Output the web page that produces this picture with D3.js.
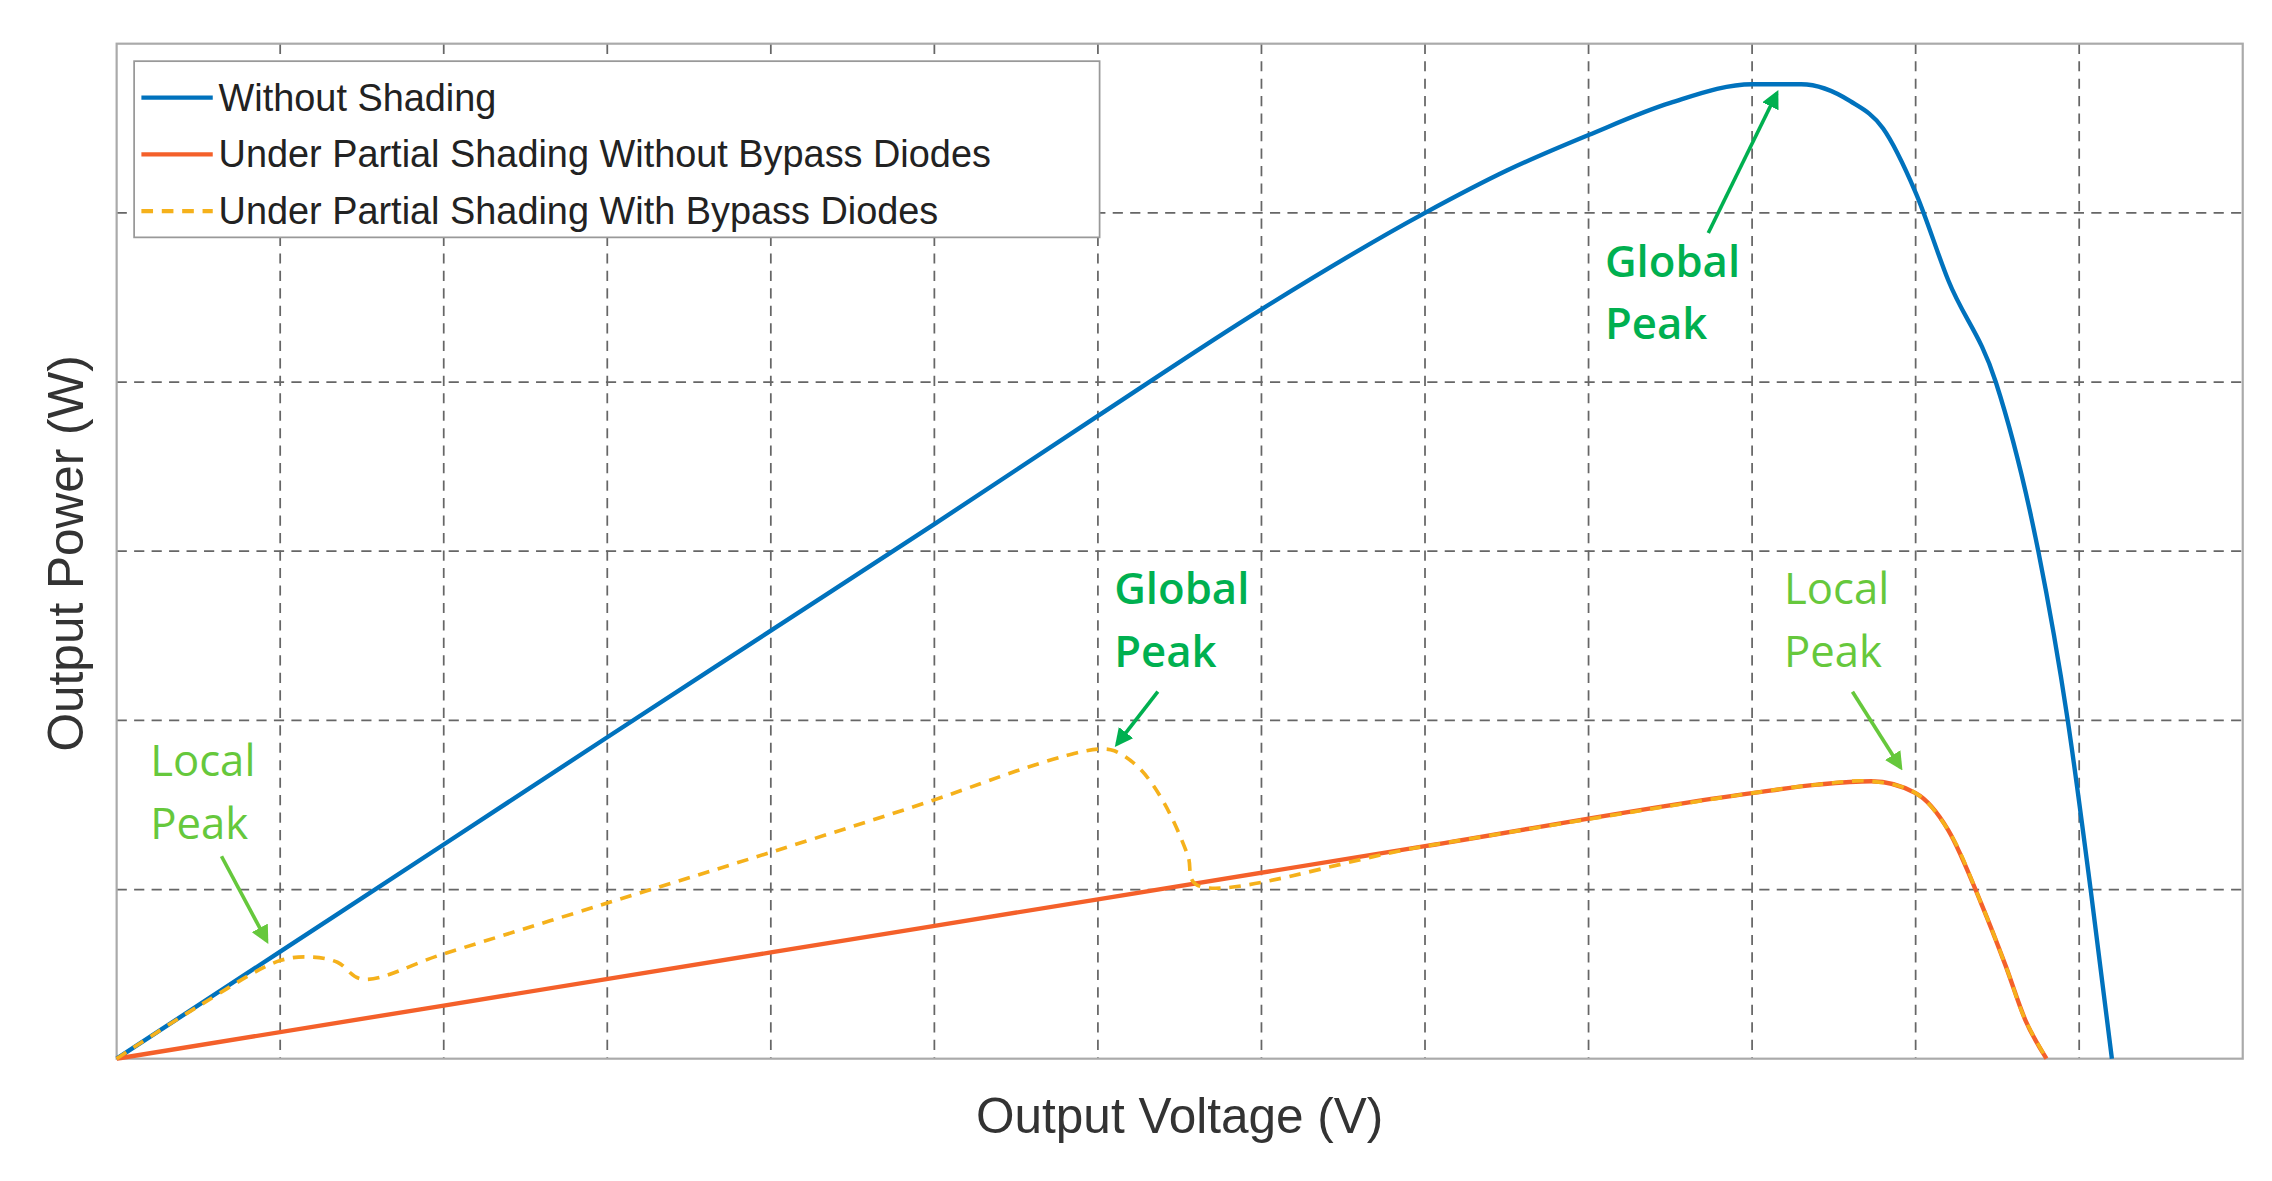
<!DOCTYPE html><html><head><meta charset="utf-8"><script src="https://cdn.jsdelivr.net/npm/d3@7"></script>
<style>body{margin:0;background:#fff}</style></head><body><svg id="c" width="2272" height="1181" viewBox="0 0 1560 811"></svg>
<script>
const xTicks=d3.range(0,14);
const yTicks=d3.range(0,7);
const blueX=[0,1,2,3,4,5,6,7,8,8.5,9,9.5,10,10.3,10.6,10.8,11,11.2,11.49,11.75,11.93,12.07,12.2];
const blueY=[0,0.633,1.266,1.9,2.53,3.16,3.8,4.43,5.0,5.25,5.46,5.65,5.76,5.76,5.66,5.5,5.12,4.6,4.0,3.0,2.0,1.0,0];
const orangeX=[0,2,4,6,8,10,10.4,10.73,11,11.2,11.4,11.55,11.67,11.8];
const orangeY=[0,0.314,0.628,0.942,1.256,1.57,1.62,1.64,1.57,1.35,0.92,0.55,0.23,0];
const yellowX=[0,0.5,1,1.2,1.35,1.5,2,3,4,5,5.5,5.8,6,6.1,6.25,6.4,6.55,6.6,8,10,10.4,10.73,11,11.2,11.4,11.55,11.67,11.8];
const yellowY=[0,0.31,0.58,0.6,0.57,0.47,0.62,0.92,1.22,1.53,1.7,1.79,1.83,1.82,1.72,1.52,1.2,1.03,1.256,1.57,1.62,1.64,1.57,1.35,0.92,0.55,0.23,0];
const legendLabels=["Without Shading","Under Partial Shading Without Bypass Diodes","Under Partial Shading With Bypass Diodes"];
const colors=["#0072bd","#f4602a","#f5b11b"];
const svg=d3.select("#c");
const L=80,R=1540,T=30,B=727;
const x=d3.scaleLinear().domain([0,13]).range([L,R]);
const y=d3.scaleLinear().domain([0,6]).range([B,T]);
const g=svg.append("g");
g.selectAll(".vx").data(xTicks.slice(1,-1)).join("line").attr("x1",x).attr("x2",x).attr("y1",T).attr("y2",B).attr("stroke","#666").attr("stroke-dasharray","7,5").attr("stroke-width",1.2);
g.selectAll(".hy").data(yTicks.slice(1,-1)).join("line").attr("y1",y).attr("y2",y).attr("x1",L).attr("x2",R).attr("stroke","#666").attr("stroke-dasharray","7,5").attr("stroke-width",1.2);
svg.append("rect").attr("x",L).attr("y",T).attr("width",R-L).attr("height",B-T).attr("fill","none").attr("stroke","#aaa").attr("stroke-width",1.5);
const line=d3.line().x(d=>x(d[0])).y(d=>y(d[1])).curve(d3.curveMonotoneX);
const zip=(a,b)=>a.map((v,i)=>[v,b[i]]);
svg.append("path").attr("d",line(zip(blueX,blueY))).attr("fill","none").attr("stroke",colors[0]).attr("stroke-width",3);
svg.append("path").attr("d",line(zip(orangeX,orangeY))).attr("fill","none").attr("stroke",colors[1]).attr("stroke-width",3);
svg.append("path").attr("d",d3.line().x(d=>x(d[0])).y(d=>y(d[1])).curve(d3.curveCatmullRom)(zip(yellowX,yellowY))).attr("fill","none").attr("stroke",colors[2]).attr("stroke-width",2.5).attr("stroke-dasharray","8,6");
// legend
svg.append("rect").attr("x",92).attr("y",42).attr("width",663).attr("height",121).attr("fill","#fff").attr("stroke","#999").attr("stroke-width",1.2);
legendLabels.forEach((t,i)=>{const yy=67+i*39;
 svg.append("line").attr("x1",97).attr("x2",146).attr("y1",yy).attr("y2",yy).attr("stroke",colors[i]).attr("stroke-width",3).attr("stroke-dasharray",i==2?"8,6":null);
 svg.append("text").attr("x",150).attr("y",yy+9).text(t).attr("font-family","Liberation Sans, Arial").attr("font-size",26).attr("fill","#222");});
// axis labels
svg.append("text").attr("x",810).attr("y",778).attr("text-anchor","middle").text("Output Voltage (V)").attr("font-family","Liberation Sans, Arial").attr("font-size",34).attr("fill","#333");
svg.append("text").attr("transform","translate(57,380) rotate(-90)").attr("text-anchor","middle").text("Output Power (W)").attr("font-family","Liberation Sans, Arial").attr("font-size",34).attr("fill","#333");
// annotations
const ann=[{t:["Global","Peak"],x:1102,y:190,c:"#00b050",w:600,a:[1173,160,1220,64]},
{t:["Global","Peak"],x:765,y:415,c:"#00b050",w:600,a:[795,475,767,511]},
{t:["Local","Peak"],x:1225,y:415,c:"#66c83c",w:400,a:[1272,475,1305,527]},
{t:["Local","Peak"],x:103,y:533,c:"#66c83c",w:400,a:[152,588,183,646]}];
const defs=svg.append("defs");
ann.forEach((d,i)=>{
 defs.append("marker").attr("id","m"+i).attr("viewBox","0 0 10 10").attr("refX",8).attr("refY",5).attr("markerWidth",5).attr("markerHeight",5).attr("orient","auto").append("path").attr("d","M0,0L10,5L0,10z").attr("fill",d.c);
 d.t.forEach((s,j)=>svg.append("text").attr("x",d.x).attr("y",d.y+j*43).text(s).attr("font-family","Open Sans").attr("font-weight",d.w).attr("font-size",30).attr("fill",d.c));
 svg.append("line").attr("x1",d.a[0]).attr("y1",d.a[1]).attr("x2",d.a[2]).attr("y2",d.a[3]).attr("stroke",d.c).attr("stroke-width",2.5).attr("marker-end","url(#m"+i+")");
});
</script></body></html>
